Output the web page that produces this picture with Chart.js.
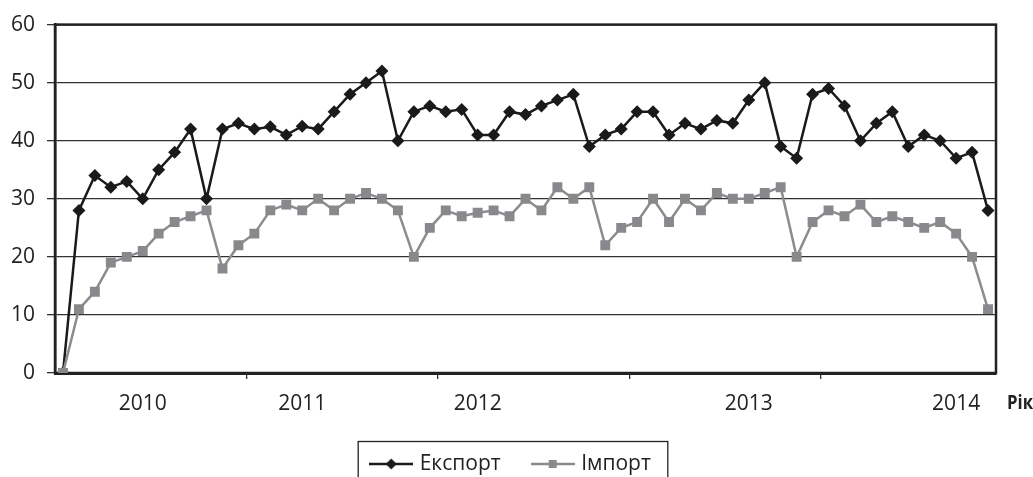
<!DOCTYPE html>
<html>
<head>
<meta charset="utf-8">
<script src="https://cdn.jsdelivr.net/npm/chart.js@4/dist/chart.umd.min.js"></script>
<style>
  html, body { margin: 0; padding: 0; background: #fff; }
  #wrap { width: 1033px; height: 477px; position: relative; }
</style>
</head>
<body>
<div id="wrap"><canvas id="grafico"></canvas></div>
<script>
// Дані з графіка (помісячно, 59 точок)
const eksport = [0, 28, 34, 32, 33, 30, 35, 38, 42, 30, 42, 43, 42, 42.4, 41, 42.5, 42, 45, 48, 50,
  52, 40, 45, 46, 45, 45.4, 41, 41, 45, 44.5, 46, 47, 48, 39, 41, 42, 45, 45, 41, 43,
  42, 43.5, 43, 47, 50, 39, 37, 48, 49, 46, 40, 43, 45, 39, 41, 40, 37, 38, 28];
const import_ = [0, 11, 14, 19, 20, 21, 24, 26, 27, 28, 18, 22, 24, 28, 29, 28, 30, 28, 30, 31,
  30, 28, 20, 25, 28, 27, 27.6, 28, 27, 30, 28, 32, 30, 32, 22, 25, 26, 30, 26, 30,
  28, 31, 30, 30, 31, 32, 20, 26, 28, 27, 29, 26, 27, 26, 25, 26, 24, 20, 11];
const roky = ['2010', '2011', '2012', '2013', '2014'];
const rokyIndeks = [5, 15, 26, 43, 56];
const nazvy = ['Експорт', 'Імпорт'];

const FONT = '"Open Sans", "Noto Sans", sans-serif';
const TEXT = '#222';

// Etiquetas del eje X: vacías salvo los años
const etiquetas = eksport.map(() => '');
rokyIndeks.forEach((idx, i) => { etiquetas[idx] = roky[i]; });

// Iconos de leyenda: línea + marcador
function crearIcono(color, forma) {
  const c = document.createElement('canvas');
  c.width = 44; c.height = 14;
  const g = c.getContext('2d');
  g.strokeStyle = color; g.fillStyle = color; g.lineWidth = 2.5;
  g.beginPath(); g.moveTo(0, 7); g.lineTo(44, 7); g.stroke();
  g.beginPath();
  if (forma === 'diamante') {
    g.moveTo(22, 1.5); g.lineTo(27.5, 7); g.lineTo(22, 12.5); g.lineTo(16.5, 7); g.closePath();
  } else {
    g.rect(18, 3, 8, 8);
  }
  g.fill();
  return c;
}
const iconos = [crearIcono('#1a1a1a', 'diamante'), crearIcono('#8a8a8d', 'cuadro')];

// Marco del área, borde de leyenda y texto "Рік"
const extras = {
  id: 'extras',
  afterUpdate(chart) {
    // la leyenda queda un poco a la derecha del centro
    const L = chart.legend;
    const dx = 14;
    L.left += dx; L.right += dx;
    (L.legendHitBoxes || []).forEach(h => { h.left += dx; });
  },
  beforeDatasetsDraw(chart) {
    const { ctx, chartArea: a } = chart;
    ctx.save();
    ctx.strokeStyle = '#222';
    ctx.lineWidth = 2.5;
    ctx.strokeRect(a.left, a.top, a.right - a.left, a.bottom - a.top);
    ctx.restore();
  },
  afterDraw(chart) {
    const { ctx, chartArea: a } = chart;
    const x = chart.scales.x;
    ctx.save();
    ctx.font = 'bold 20px ' + FONT;
    ctx.fillStyle = TEXT;
    ctx.textBaseline = 'middle';
    ctx.textAlign = 'left';
    ctx.fillText('Рік', a.right + 11, x.top + 30, 26);

    const hb = chart.legend.legendHitBoxes;
    if (hb && hb.length) {
      const first = hb[0], last = hb[hb.length - 1];
      const l = first.left - 15, r = last.left + last.width + 17, t = first.top - 12;
      ctx.strokeStyle = '#222';
      ctx.lineWidth = 1.3;
      ctx.strokeRect(l, t, r - l, 60);
    }
    ctx.restore();
  }
};

new Chart(document.getElementById('grafico'), {
  type: 'line',
  data: {
    labels: etiquetas,
    datasets: [{
      label: nazvy[0],
      data: eksport,
      borderColor: '#1a1a1a',
      backgroundColor: '#1a1a1a',
      borderWidth: 2.5,
      pointStyle: 'rectRot',
      pointRadius: 6.5,
      pointBorderWidth: 0,
      tension: 0,
      order: 2
    }, {
      label: nazvy[1],
      data: import_,
      borderColor: '#8c8c8c',
      backgroundColor: '#88898d',
      borderWidth: 2.5,
      pointStyle: 'rect',
      pointRadius: 7,
      pointBorderWidth: 0,
      tension: 0,
      order: 1
    }]
  },
  options: {
    responsive: true,
    maintainAspectRatio: false,
    animation: false,
    layout: { padding: { top: 21, right: 37, bottom: -7.5, left: 0 } },
    scales: {
      x: {
        offset: true,
        grid: {
          offset: true,
          drawOnChartArea: false,
          tickLength: 6,
          lineWidth: 1.3,
          color: ctx => (ctx.index > 0 && ctx.index % 12 === 0) ? '#333' : 'transparent'
        },
        border: { display: true, color: '#222', width: 3 },
        ticks: {
          autoSkip: false,
          maxRotation: 0,
          padding: 12,
          color: TEXT,
          font: { family: FONT, size: 21 }
        },
        afterFit: s => { s.height = 46.5; }
      },
      y: {
        min: 0,
        max: 60,
        ticks: {
          stepSize: 10,
          padding: 12,
          color: TEXT,
          font: { family: FONT, size: 21 }
        },
        grid: { color: '#333', lineWidth: 1.3, tickLength: 8 },
        border: { display: true, color: '#222', width: 2.5 },
        afterFit: s => { s.width = 55; }
      }
    },
    plugins: {
      tooltip: { enabled: false },
      legend: {
        position: 'bottom',
        labels: {
          usePointStyle: true,
          pointStyleWidth: 36,
          padding: 34,
          color: TEXT,
          font: { family: FONT, size: 21 },
          generateLabels: chart => chart.data.datasets.map((ds, i) => ({
            text: ds.label,
            pointStyle: iconos[i],
            fillStyle: 'transparent',
            strokeStyle: 'transparent',
            lineWidth: 0,
            hidden: false,
            datasetIndex: i,
            fontColor: TEXT
          }))
        }
      }
    }
  },
  plugins: [extras]
});
</script>
</body>
</html>
